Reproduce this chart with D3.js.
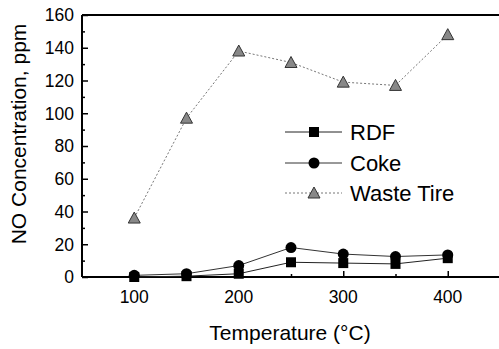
<!DOCTYPE html>
<html>
<head>
<meta charset="utf-8">
<script src="https://cdn.jsdelivr.net/npm/d3@7"></script>
<style>
  body { margin: 0; background: #fff; }
  svg { display: block; font-family: "Liberation Sans", Arial, sans-serif; }
</style>
</head>
<body>
<div id="chart"></div>
<script>
const W = 499, H = 349;
const M = { left: 82, right: 0, top: 15, bottom: 72 };

const temps = [100, 150, 200, 250, 300, 350, 400];
const rdf = [0, 0.5, 2, 9, 8.5, 8, 11.5];
const coke = [1, 2, 7, 18, 14, 12.5, 13.5];
const wasteTire = [36, 97, 138, 131, 119, 117, 148];

const xTicks = [100, 200, 300, 400];
const yTicks = [0, 20, 40, 60, 80, 100, 120, 140, 160];

const svg = d3.select("#chart").append("svg").attr("width", W).attr("height", H);

const x = d3.scaleLinear().domain([50, 450]).range([M.left, M.left + 418]);
const y = d3.scaleLinear().domain([0, 160]).range([H - M.bottom, M.top]);

// frame lines
svg.append("line").attr("x1", M.left).attr("x2", W).attr("y1", y(160)).attr("y2", y(160))
  .attr("stroke", "#000").attr("stroke-width", 2);
svg.append("line").attr("x1", M.left).attr("x2", W).attr("y1", y(0)).attr("y2", y(0))
  .attr("stroke", "#000").attr("stroke-width", 2);
svg.append("line").attr("x1", x(50)).attr("x2", x(50)).attr("y1", y(0)).attr("y2", y(160))
  .attr("stroke", "#000").attr("stroke-width", 2);

// y ticks (inward)
svg.append("g").attr("transform", `translate(${x(50)},0)`)
  .call(d3.axisRight(y).tickValues(yTicks).tickSize(6).tickFormat(""))
  .call(g => g.select(".domain").remove());
svg.append("g").attr("transform", `translate(${x(50)},0)`)
  .call(d3.axisRight(y).tickValues(d3.range(10, 160, 20)).tickSize(3).tickFormat(""))
  .call(g => g.select(".domain").remove());
svg.append("g").selectAll("text").data(yTicks).join("text")
  .attr("x", x(50) - 8).attr("y", d => y(d)).attr("dy", "0.36em")
  .attr("text-anchor", "end").attr("font-size", 17.5).text(d => d);

// x ticks (inward)
svg.append("g").attr("transform", `translate(0,${y(0)})`)
  .call(d3.axisTop(x).tickValues(xTicks).tickSize(6).tickFormat(""))
  .call(g => g.select(".domain").remove());
svg.append("g").attr("transform", `translate(0,${y(0)})`)
  .call(d3.axisTop(x).tickValues([150, 250, 350]).tickSize(3).tickFormat(""))
  .call(g => g.select(".domain").remove());
svg.append("g").selectAll("text").data(xTicks).join("text")
  .attr("x", d => x(d)).attr("y", y(0) + 26)
  .attr("text-anchor", "middle").attr("font-size", 17.5).text(d => d);

svg.selectAll(".tick line").attr("stroke", "#000").attr("stroke-width", 1.5);

// axis titles
svg.append("text").attr("x", 290).attr("y", 340).attr("text-anchor", "middle")
  .attr("font-size", 21).text("Temperature (°C)");
svg.append("text").attr("transform", `translate(26,${(y(0) + y(160)) / 2 - 12}) rotate(-90)`)
  .attr("text-anchor", "middle").attr("font-size", 21).text("NO Concentration, ppm");

const line = d3.line().x((d, i) => x(temps[i])).y(d => y(d));

const series = [
  { name: "RDF", values: rdf, stroke: "#222", dash: null, marker: "square" },
  { name: "Coke", values: coke, stroke: "#333", dash: null, marker: "circle" },
  { name: "Waste Tire", values: wasteTire, stroke: "#777", dash: "2,2", marker: "triangle" }
];

const drawMarker = (g, type, cx, cy) => {
  if (type === "square") {
    g.append("rect").attr("x", cx - 5).attr("y", cy - 5).attr("width", 10).attr("height", 10)
      .attr("fill", "#000");
  } else if (type === "circle") {
    g.append("circle").attr("cx", cx).attr("cy", cy).attr("r", 5.5).attr("fill", "#000");
  } else {
    g.append("path").attr("d", `M${cx},${cy - 6}L${cx + 6},${cy + 5}L${cx - 6},${cy + 5}Z`)
      .attr("fill", "#888").attr("stroke", "#333").attr("stroke-width", 1);
  }
};

series.forEach(s => {
  svg.append("path").datum(s.values).attr("d", line)
    .attr("fill", "none").attr("stroke", s.stroke).attr("stroke-width", 1)
    .attr("stroke-dasharray", s.dash);
  const g = svg.append("g");
  s.values.forEach((v, i) => drawMarker(g, s.marker, x(temps[i]), y(v)));
});

// legend
const legendY = [132, 163, 193];
series.forEach((s, i) => {
  const ly = legendY[i];
  svg.append("line").attr("x1", 285).attr("x2", 342).attr("y1", ly).attr("y2", ly)
    .attr("stroke", s.stroke).attr("stroke-width", 1).attr("stroke-dasharray", s.dash);
  drawMarker(svg.append("g"), s.marker, 314, ly);
  svg.append("text").attr("x", 350).attr("y", ly).attr("dy", "0.36em")
    .attr("font-size", 22).text(s.name);
});
</script>
</body>
</html>
